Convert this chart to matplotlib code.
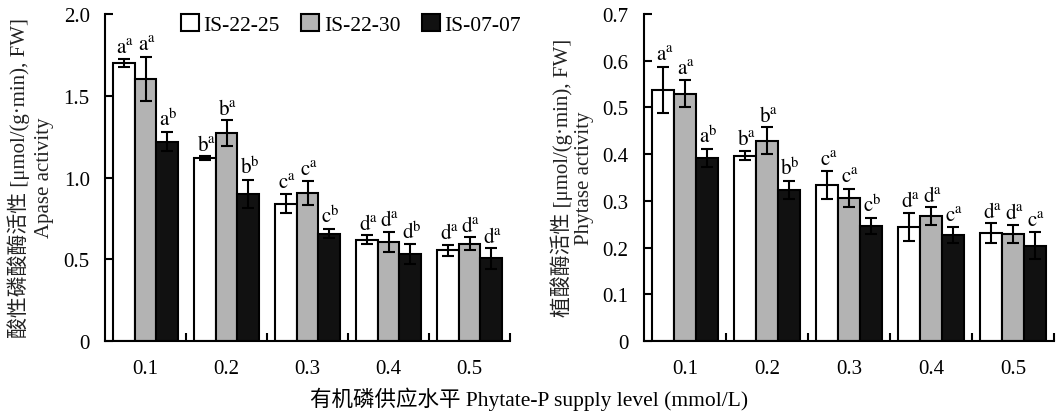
import matplotlib
matplotlib.use("Agg")
import matplotlib.pyplot as plt
import numpy as np
from matplotlib.patches import Patch
from matplotlib.ticker import FuncFormatter, FixedLocator

plt.rcParams['font.family'] = ['Liberation Serif', 'Noto Sans CJK SC', 'DejaVu Sans']
plt.rcParams['mathtext.fontset'] = 'stix'

# data
levels = ['0.1', '0.2', '0.3', '0.4', '0.5']
lines = ['IS-22-25', 'IS-22-30', 'IS-07-07']

apase = [[1.70, 1.12, 0.84, 0.62, 0.555],
         [1.605, 1.27, 0.905, 0.605, 0.595],
         [1.22, 0.90, 0.657, 0.533, 0.506]]
apase_err = [[0.025, 0.01, 0.057, 0.027, 0.035],
             [0.135, 0.08, 0.073, 0.063, 0.04],
             [0.06, 0.086, 0.03, 0.059, 0.063]]
apase_lab = [['a^a', 'b^a', 'c^a', 'd^a', 'd^a'],
             ['a^a', 'b^a', 'c^a', 'd^a', 'd^a'],
             ['a^b', 'b^b', 'c^b', 'd^b', 'd^a']]

phytase = [[0.538, 0.397, 0.334, 0.244, 0.231],
           [0.529, 0.429, 0.306, 0.267, 0.229],
           [0.392, 0.324, 0.246, 0.227, 0.204]]
phytase_err = [[0.049, 0.01, 0.029, 0.031, 0.021],
               [0.029, 0.029, 0.02, 0.019, 0.02],
               [0.02, 0.019, 0.018, 0.017, 0.029]]
phytase_lab = [['a^a', 'b^a', 'c^a', 'd^a', 'd^a'],
               ['a^a', 'b^a', 'c^a', 'd^a', 'd^a'],
               ['a^b', 'b^b', 'c^b', 'c^a', 'c^a']]

colors = ['white', '#b3b3b3', '#111111']
fs = 15

fig = plt.figure(figsize=(10.59, 4.14), dpi=100)
ax1 = fig.add_axes([105/1059, 72/414, 405/1059, 327/414])
ax2 = fig.add_axes([644/1059, 72/414, 410/1059, 327/414])


def draw(ax, vals, errs, labs, ymax, ystep):
    x = np.arange(len(levels))
    w = 0.265
    for i in range(3):
        xi = x + (i - 1) * w
        ax.bar(xi, vals[i], w, color=colors[i], edgecolor='black', linewidth=1.5,
               yerr=errs[i], error_kw=dict(ecolor='black', elinewidth=1.5, capsize=4, capthick=1.5))
        for j in range(len(levels)):
            a, b = labs[i][j].split('^')
            ax.annotate(r'$\mathrm{%s}^{\mathrm{%s}}$' % (a, b),
                        (xi[j], vals[i][j] + errs[i][j]), xytext=(1, 1),
                        textcoords='offset points', ha='center', va='bottom', fontsize=fs)
    ax.set_xlim(-0.5, 4.5)
    ax.set_ylim(0, ymax)
    ax.set_yticks(np.arange(0, ymax + ystep / 2, ystep))
    ax.yaxis.set_major_formatter(FuncFormatter(lambda v, p: '0' if v == 0 else '%.1f' % v))
    ax.set_xticks(x)
    ax.set_xticklabels(levels)
    ax.xaxis.set_minor_locator(FixedLocator(x + 0.5))
    ax.tick_params(axis='x', which='major', length=0, pad=13, labelsize=fs)
    ax.tick_params(axis='x', which='minor', direction='in', length=6, width=1.5)
    ax.tick_params(axis='y', direction='in', length=6, width=1.5, pad=11, labelsize=fs)
    for s in ['top', 'right']:
        ax.spines[s].set_visible(False)
    for s in ['left', 'bottom']:
        ax.spines[s].set_linewidth(1.5)


draw(ax1, apase, apase_err, apase_lab, 2.0, 0.5)
draw(ax2, phytase, phytase_err, phytase_lab, 0.7, 0.1)

# two-line y labels placed by hand
yc = (414 - 178) / 414
fig.text(19/1059, yc, '酸性磷酸酶活性 [μmol/(g·min), FW]', rotation=90, ha='center',
         va='center', fontsize=fs, color='#222222')
fig.text(45/1059, yc, 'Apase activity', rotation=90, ha='center', va='center',
         fontsize=fs, color='#222222')
fig.text(562/1059, yc, '植酸酶活性 [μmol/(g·min), FW]', rotation=90, ha='center',
         va='center', fontsize=fs, color='#222222')
fig.text(584/1059, yc, 'Phytase activity', rotation=90, ha='center', va='center',
         fontsize=fs, color='#222222')

handles = [Patch(facecolor=c, edgecolor='black', linewidth=1.5) for c in colors]
ax1.legend(handles, lines, loc='center', bbox_to_anchor=(0.607, 0.969), ncol=3,
           frameon=False, fontsize=15.5, handlelength=0.85, handleheight=0.85,
           handletextpad=0.2, columnspacing=1.0, borderpad=0)

fig.text(0.5, 0.035, '有机磷供应水平 Phytate-P supply level (mmol/L)', ha='center',
         va='center', fontsize=15.5)

fig.savefig('out.png', dpi=100)
